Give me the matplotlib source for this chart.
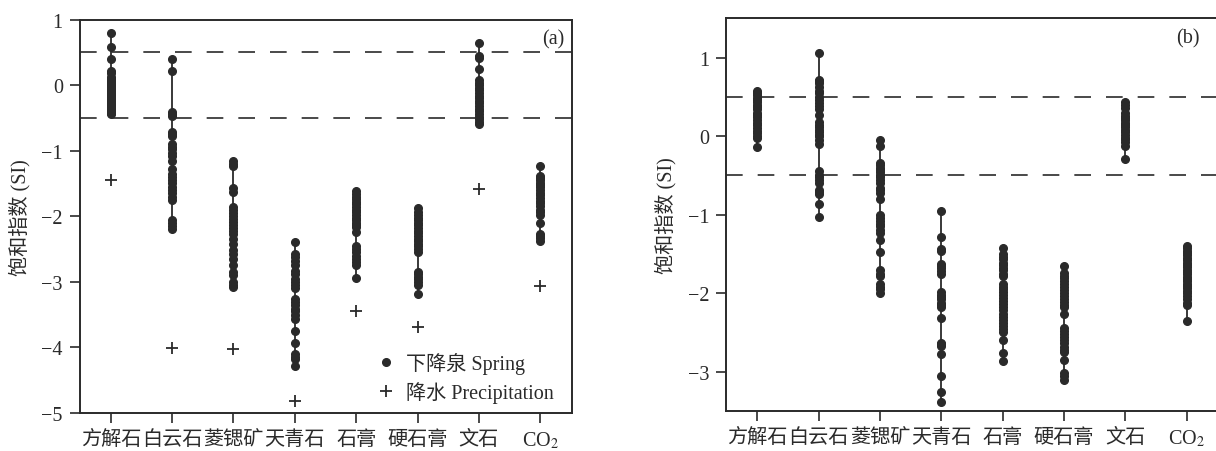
import matplotlib
matplotlib.use("Agg")
import matplotlib.pyplot as plt
import numpy as np

plt.rcParams['font.family'] = ['Liberation Serif', 'Noto Sans CJK SC', 'DejaVu Sans']
plt.rcParams['mathtext.fontset'] = 'stix'
plt.rcParams['axes.unicode_minus'] = True

categories = ['方解石', '白云石', '菱锶矿', '天青石', '石膏', '硬石膏', '文石', 'CO$_2$']

# Panel (a): spring SI values per mineral
spring_a = [
    [0.79, 0.58, 0.40, 0.22, 0.18, 0.13, 0.10, 0.06, 0.03, 0.00, -0.03, -0.06, -0.09, -0.12, -0.15, -0.18, -0.21, -0.24, -0.27, -0.30, -0.33, -0.36, -0.39, -0.42, -0.44],
    [0.40, 0.22, -0.41, -0.44, -0.47, -0.72, -0.75, -0.78, -0.90, -0.94, -0.98, -1.03, -1.08, -1.15, -1.28, -1.35, -1.40, -1.45, -1.50, -1.55, -1.60, -1.65, -1.70, -1.75, -2.06, -2.10, -2.15, -2.19],
    [-1.16, -1.21, -1.24, -1.57, -1.63, -1.86, -1.90, -1.95, -2.00, -2.04, -2.09, -2.13, -2.18, -2.22, -2.27, -2.34, -2.42, -2.52, -2.58, -2.65, -2.75, -2.85, -2.90, -3.00, -3.05, -3.08],
    [-2.39, -2.57, -2.62, -2.68, -2.75, -2.83, -2.88, -2.95, -3.00, -3.05, -3.10, -3.26, -3.31, -3.36, -3.41, -3.45, -3.50, -3.56, -3.75, -3.93, -4.10, -4.14, -4.17, -4.29],
    [-1.62, -1.66, -1.70, -1.74, -1.78, -1.82, -1.86, -1.90, -1.94, -1.98, -2.02, -2.06, -2.10, -2.14, -2.17, -2.24, -2.45, -2.50, -2.55, -2.60, -2.65, -2.70, -2.75, -2.94],
    [-1.87, -1.94, -1.98, -2.02, -2.06, -2.10, -2.14, -2.18, -2.22, -2.26, -2.30, -2.34, -2.38, -2.42, -2.46, -2.50, -2.55, -2.85, -2.88, -2.92, -2.96, -3.00, -3.05, -3.18],
    [0.64, 0.45, 0.42, 0.25, 0.08, 0.03, 0.00, -0.04, -0.08, -0.12, -0.16, -0.20, -0.24, -0.28, -0.32, -0.36, -0.40, -0.44, -0.48, -0.52, -0.56, -0.59],
    [-1.24, -1.38, -1.42, -1.45, -1.49, -1.52, -1.56, -1.60, -1.64, -1.68, -1.72, -1.76, -1.80, -1.84, -1.90, -1.94, -1.98, -2.10, -2.27, -2.30, -2.33, -2.37],
]
# Panel (a): precipitation SI values
precip_a = [-1.45, -4.01, -4.02, -4.81, -3.45, -3.69, -1.59, -3.07]

# Panel (b): spring SI values per mineral
spring_b = [
    [0.58, 0.55, 0.52, 0.49, 0.46, 0.43, 0.40, 0.37, 0.34, 0.30, 0.27, 0.24, 0.20, 0.17, 0.14, 0.10, 0.07, 0.04, 0.00, -0.02, -0.14],
    [1.06, 0.72, 0.70, 0.68, 0.62, 0.58, 0.55, 0.50, 0.46, 0.42, 0.38, 0.35, 0.27, 0.18, 0.14, 0.12, 0.08, 0.05, 0.02, 0.00, -0.05, -0.10, -0.45, -0.49, -0.52, -0.56, -0.60, -0.68, -0.71, -0.74, -0.87, -1.03],
    [-0.05, -0.13, -0.34, -0.37, -0.40, -0.43, -0.46, -0.49, -0.52, -0.56, -0.60, -0.66, -0.69, -0.72, -0.80, -1.00, -1.04, -1.08, -1.12, -1.15, -1.20, -1.23, -1.32, -1.48, -1.71, -1.75, -1.78, -1.88, -1.92, -1.95, -2.00],
    [-0.95, -1.29, -1.44, -1.46, -1.63, -1.66, -1.68, -1.72, -1.76, -1.99, -2.02, -2.05, -2.08, -2.12, -2.15, -2.18, -2.32, -2.63, -2.65, -2.67, -2.78, -3.06, -3.26, -3.39],
    [-1.42, -1.50, -1.54, -1.57, -1.61, -1.64, -1.68, -1.71, -1.75, -1.78, -1.88, -1.92, -1.95, -1.99, -2.02, -2.06, -2.10, -2.14, -2.18, -2.22, -2.26, -2.30, -2.34, -2.38, -2.42, -2.46, -2.50, -2.60, -2.76, -2.86],
    [-1.66, -1.74, -1.78, -1.81, -1.85, -1.88, -1.92, -1.96, -2.00, -2.04, -2.07, -2.11, -2.15, -2.18, -2.27, -2.44, -2.48, -2.52, -2.56, -2.60, -2.64, -2.68, -2.72, -2.75, -2.85, -3.01, -3.06, -3.10],
    [0.43, 0.40, 0.36, 0.30, 0.26, 0.23, 0.20, 0.17, 0.14, 0.11, 0.08, 0.05, 0.02, -0.02, -0.04, -0.08, -0.12, -0.29],
    [-1.40, -1.43, -1.46, -1.49, -1.52, -1.55, -1.58, -1.61, -1.64, -1.67, -1.70, -1.73, -1.76, -1.79, -1.82, -1.85, -1.88, -1.91, -1.94, -1.97, -2.00, -2.04, -2.08, -2.12, -2.15, -2.35],
]

ink = '#2a2a2a'
W, H = 1216, 452
fig = plt.figure(figsize=(W / 100, H / 100), dpi=100)

ax1 = fig.add_axes([79.5 / W, (H - 414) / H, 492 / W, 393.5 / H])
ax2 = fig.add_axes([726 / W, (H - 412) / H, 492 / W, 392.7 / H])

FS = 14.5


def draw(ax, spring, precip, ylim, yticks, tag):
    x = np.arange(len(categories))
    for i, vals in enumerate(spring):
        ax.plot([x[i], x[i]], [min(vals), max(vals)], color=ink, lw=1.3, zorder=2)
        ax.plot([x[i]] * len(vals), vals, 'o', color=ink, ms=5.5, mec=ink, zorder=3,
                label='下降泉 Spring' if i == 0 else None)
    if precip is not None:
        ax.plot(x, precip, '+', color=ink, ms=8, mew=1.3, ls='none', zorder=3,
                label='降水 Precipitation')
    for yv in (0.5, -0.5):
        ax.axhline(yv, color=ink, lw=1.2, ls=(0, (10, 9)), zorder=1)
    ax.set_xlim(-0.51, 7.51)
    ax.set_ylim(*ylim)
    ax.set_yticks(yticks)
    ax.set_yticklabels([str(t).replace('-', '\u2212') for t in yticks])
    ax.set_xticks(x)
    ax.set_xticklabels(categories)
    ax.tick_params(direction='out', length=7, width=1.2, color=ink, labelcolor=ink,
                   labelsize=FS, pad=5)
    for s in ax.spines.values():
        s.set_color(ink)
        s.set_linewidth(1.4)
    ax.set_ylabel('饱和指数 (SI)', fontsize=FS, color=ink, labelpad=8)
    ax.text(0.985, 0.975, tag, transform=ax.transAxes, ha='right', va='top',
            fontsize=FS, color=ink)


draw(ax1, spring_a, precip_a, (-5, 1), [1, 0, -1, -2, -3, -4, -5], '(a)')
draw(ax2, spring_b, None, (-3.5, 1.5), [1, 0, -1, -2, -3], '(b)')
ax2.texts[-1].set_position((0.962, 0.975))

leg = ax1.legend(loc='lower right', frameon=False, fontsize=FS, handletextpad=0.4,
                 borderaxespad=0.1, handlelength=1.2, labelspacing=0.35,
                 labelcolor=ink, bbox_to_anchor=(0.985, 0.0))

fig.savefig('out.png', dpi=100)
